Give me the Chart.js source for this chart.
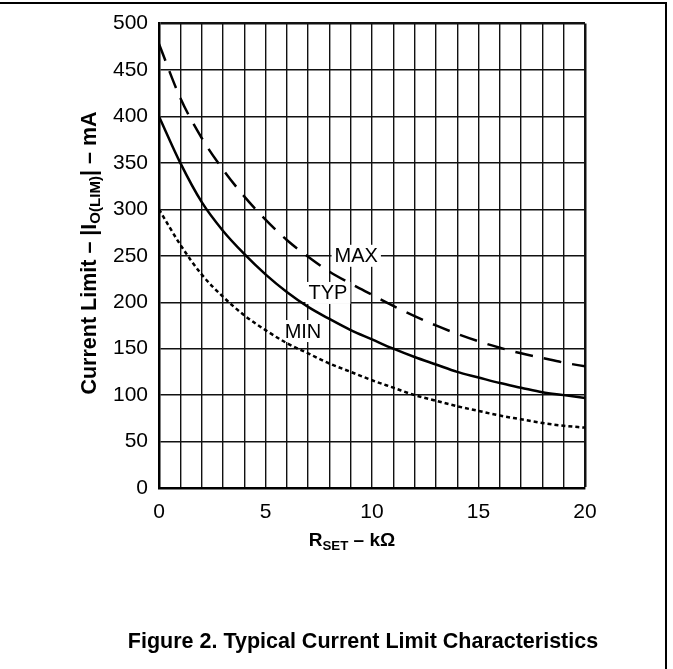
<!DOCTYPE html>
<html>
<head>
<meta charset="utf-8">
<script src="https://cdn.jsdelivr.net/npm/chart.js@4.4.1/dist/chart.umd.min.js"></script>
<style>
  body { margin: 0; background: #fff; }
  #wrap { position: relative; width: 673px; height: 669px; font-family: "Liberation Sans", Arial, sans-serif; color: #000; }
  #frame { position: absolute; left: 0; top: 2px; width: 665px; height: 667px; border-top: 2px solid #000; border-right: 2px solid #000; }
  #chart6 { position: absolute; left: 0; top: 0; }
  .ytitle { position: absolute; left: 89px; top: 253px; transform: translate(-50%, -50%) rotate(-90deg); white-space: nowrap; font-weight: bold; font-size: 21.5px; }
  .xtitle { position: absolute; left: 352px; top: 540px; transform: translate(-50%, -50%); white-space: nowrap; font-weight: bold; font-size: 19px; }
  sub { font-size: 70%; vertical-align: -0.3em; line-height: 0; }
  .caption { position: absolute; left: 363px; top: 641px; transform: translate(-50%, -50%); white-space: nowrap; font-weight: bold; font-size: 21.5px; }
</style>
</head>
<body>
<div id="wrap">
  <canvas id="chart6" width="673" height="669"></canvas>
  <div id="frame"></div>
  <div class="ytitle">Current Limit – |I<sub>O(LIM)</sub>| – mA</div>
  <div class="xtitle">R<sub>SET</sub> – kΩ</div>
  <div class="caption">Figure 2. Typical Current Limit Characteristics</div>
</div>
<script>
// R_SET in kOhm
const rSet = [0, 1, 2, 3, 4, 5, 6, 7, 8, 9, 10, 11, 12, 13, 14, 15, 16, 17, 18, 19, 20];
// current limit in mA
const maxCurrent = [478, 420, 377, 343, 314, 289, 267, 249, 233, 220, 208, 196, 185, 175, 166, 158, 151, 145, 140, 135, 131];
const typCurrent = [400, 350, 308, 277, 252, 230, 211, 195, 182, 170, 160, 150, 141, 133, 125, 119, 113, 108, 103, 100, 97];
const minCurrent = [300, 262, 230, 206, 186, 170, 156, 145, 134, 125, 116, 108, 100, 94, 88, 83, 78, 74, 70, 67, 65];

// curve labels (data coordinates)
const curveNames = ['MAX', 'TYP', 'MIN'];
const curveLabelX = [9.26, 7.93, 6.76];
const curveLabelY = [250, 210, 169];

const ctx = document.getElementById('chart6').getContext('2d');

function toPoints(values) {
    return rSet.map((r, i) => ({ x: r, y: values[i] }));
}

// white boxed labels, drawn over the grid but under the curves
const curveLabels = {
    id: 'curveLabels',
    beforeDatasetsDraw(chart) {
        const c = chart.ctx;
        const xs = chart.scales.x;
        const ys = chart.scales.y;
        c.save();
        c.font = '20px "Liberation Sans", Arial, sans-serif';
        c.textAlign = 'center';
        c.textBaseline = 'middle';
        curveNames.forEach((name, i) => {
            const px = xs.getPixelForValue(curveLabelX[i]);
            const py = ys.getPixelForValue(curveLabelY[i]);
            const w = c.measureText(name).width;
            c.fillStyle = '#fff';
            c.fillRect(px - w / 2 - 3, py - 11, w + 6, 22);
            c.fillStyle = '#000';
            c.fillText(name, px, py + 1);
        });
        c.restore();
    }
};

const chart6 = new Chart(ctx, {
    type: 'line',
    data: {
        datasets: [
            {
                label: 'MAX',
                data: toPoints(maxCurrent),
                borderColor: '#000',
                borderWidth: 2.5,
                borderDash: [18, 11],
                pointRadius: 0,
                cubicInterpolationMode: 'monotone',
                fill: false
            },
            {
                label: 'TYP',
                data: toPoints(typCurrent),
                borderColor: '#000',
                borderWidth: 2.5,
                pointRadius: 0,
                cubicInterpolationMode: 'monotone',
                fill: false
            },
            {
                label: 'MIN',
                data: toPoints(minCurrent),
                borderColor: '#000',
                borderWidth: 2.5,
                borderDash: [4, 3],
                pointRadius: 0,
                cubicInterpolationMode: 'monotone',
                fill: false
            }
        ]
    },
    options: {
        responsive: false,
        animation: false,
        layout: { padding: { left: 0, top: 17, right: 88, bottom: 0 } },
        plugins: {
            legend: { display: false },
            tooltip: { enabled: false }
        },
        scales: {
            x: {
                type: 'linear',
                min: 0,
                max: 20,
                afterFit: scale => { scale.height = 181; },
                border: { color: '#000', width: 2.5 },
                grid: {
                    color: '#111',
                    lineWidth: c => (c.tick && c.tick.value === 20 ? 2.5 : 1.4),
                    drawTicks: false
                },
                ticks: {
                    stepSize: 1,
                    autoSkip: false,
                    maxRotation: 0,
                    padding: 12,
                    color: '#000',
                    font: { family: '"Liberation Sans", Arial, sans-serif', size: 21 },
                    callback: v => (v % 5 === 0 ? v : '')
                }
            },
            y: {
                min: 0,
                max: 500,
                afterFit: scale => { scale.width = 159; },
                border: { color: '#000', width: 2.5 },
                grid: {
                    color: '#111',
                    lineWidth: c => (c.tick && c.tick.value === 500 ? 2.5 : 1.4),
                    drawTicks: false
                },
                ticks: {
                    stepSize: 50,
                    padding: 11,
                    color: '#000',
                    font: { family: '"Liberation Sans", Arial, sans-serif', size: 21 }
                }
            }
        }
    },
    plugins: [curveLabels]
});
</script>
</body>
</html>
